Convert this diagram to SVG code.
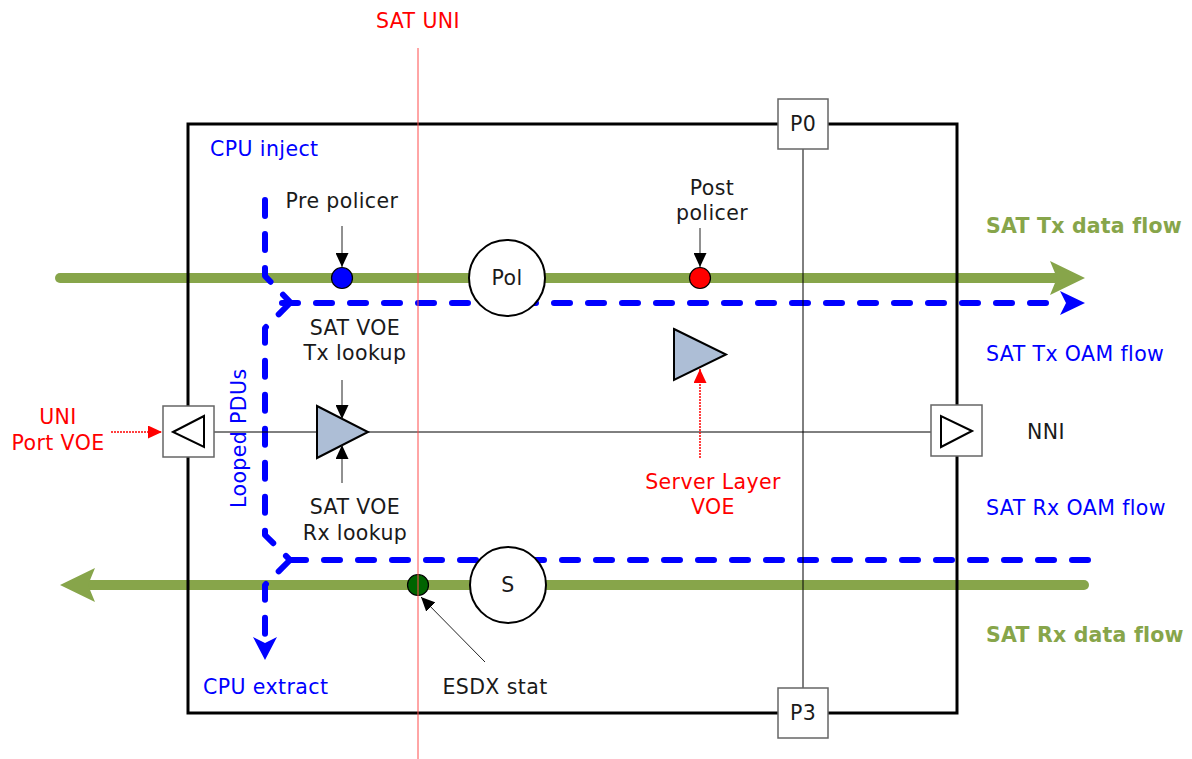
<svg xmlns="http://www.w3.org/2000/svg" width="1192" height="759" viewBox="0 0 1192 759">
<defs>
<style>
text{font-family:"DejaVu Sans","Verdana",sans-serif;font-size:20.5px;letter-spacing:0.4px}
.blk{fill:#1a1a1a}
.red{fill:#ff0000}
.blu{fill:#0000ff}
.grn{fill:#87a54a;font-weight:bold;letter-spacing:0.2px}
.mid{text-anchor:middle}
.green{stroke:#87a54a;stroke-width:10;fill:none;stroke-linecap:round}
.oam{stroke:#0000ff;stroke-width:6;fill:none;stroke-linecap:round;stroke-linejoin:round;stroke-dasharray:16 18}
.thin{stroke:#000;stroke-width:1;fill:none}
.ptr{stroke:#222;stroke-width:1;fill:none}
.rdot{stroke:#ff0000;stroke-width:1.5;fill:none;stroke-dasharray:2 1}
.port{fill:#fff;stroke:#666;stroke-width:1.5}
.tri{fill:#adbed6;stroke:#000;stroke-width:2}
</style>
<marker id="ab" viewBox="0 0 14 13" refX="14" refY="6.5" markerWidth="14" markerHeight="13" markerUnits="userSpaceOnUse" orient="auto"><path d="M0,0 L14,6.5 L0,13 z" fill="#000"/></marker>
<marker id="ar" viewBox="0 0 14 13" refX="14" refY="6.5" markerWidth="14" markerHeight="13" markerUnits="userSpaceOnUse" orient="auto"><path d="M0,0 L14,6.5 L0,13 z" fill="#ff0000"/></marker>
</defs>

<g id="connectors">
<!-- SAT Tx data flow -->
<line class="green" x1="60" y1="278" x2="1055" y2="278"/>
<polygon points="1085,278 1050,261 1057,278 1050,295" fill="#87a54a"/>
<!-- SAT Rx data flow -->
<line class="green" x1="88" y1="585" x2="1084" y2="585"/>
<polygon points="60,585 95,568 88,585 95,602" fill="#87a54a"/>
<!-- CPU inject branch -->
<path class="oam" d="M265,200 V276 L290,302"/>
<!-- SAT Tx OAM flow -->
<path class="oam" d="M265,303 H1060" stroke-dashoffset="17"/>
<polygon points="1085,303 1060,291 1066,303 1060,315" fill="#0000ff"/>
<!-- Looped PDUs -->
<path class="oam" d="M290,303 L265,328 V535 L290,560"/>
<!-- SAT Rx OAM flow -->
<path class="oam" d="M1088,560 H290"/>
<!-- CPU extract -->
<path class="oam" d="M290,560 L265,585 V640"/>
<polygon points="265,660 253,637 265,643 277,637" fill="#0000ff"/>
</g>

<g id="frame">
<rect x="188" y="124" width="769" height="589" fill="none" stroke="#000" stroke-width="3"/>
<line class="thin" x1="803" y1="149" x2="803" y2="688"/>
<line class="thin" x1="214" y1="432" x2="931" y2="432"/>
</g>

<g id="p0"><rect class="port" x="778" y="99" width="50" height="50"/><text class="blk mid" x="803" y="131">P0</text></g>
<g id="p3"><rect class="port" x="778" y="688" width="50" height="50"/><text class="blk mid" x="803" y="720">P3</text></g>

<g id="uni-port">
<rect class="port" x="163" y="406" width="51" height="51"/>
<polygon points="173,432 204,416 204,447" fill="#fff" stroke="#000" stroke-width="2"/>
</g>
<g id="nni-port">
<rect class="port" x="931" y="405" width="51" height="51"/>
<polygon points="972,431 941,416 941,447" fill="#fff" stroke="#000" stroke-width="2"/>
<text class="blk" x="1027" y="439">NNI</text>
</g>

<g id="pol">
<circle cx="507" cy="278" r="38" fill="#fff" stroke="#000" stroke-width="2"/>
<text class="blk mid" x="507" y="285">Pol</text>
</g>
<g id="s">
<circle cx="508" cy="585" r="38" fill="#fff" stroke="#000" stroke-width="2"/>
<text class="blk mid" x="508" y="592">S</text>
</g>

<g id="pre-policer">
<circle cx="342" cy="278" r="10.5" fill="#0000ff" stroke="#000" stroke-width="1.2"/>
<line class="ptr" x1="342" y1="226" x2="342" y2="267" marker-end="url(#ab)"/>
<text class="blk mid" x="342" y="208">Pre policer</text>
</g>
<g id="post-policer">
<circle cx="700" cy="278" r="10.5" fill="#ff0000" stroke="#000" stroke-width="1.2"/>
<line class="ptr" x1="700" y1="228" x2="700" y2="267" marker-end="url(#ab)"/>
<text class="blk mid" x="712" y="195">Post</text>
<text class="blk mid" x="712" y="220">policer</text>
</g>

<g id="sat-voe">
<polygon class="tri" points="317,406 368,432 317,458"/>
<line class="ptr" x1="342" y1="380" x2="342" y2="419" marker-end="url(#ab)"/>
<line class="ptr" x1="342" y1="483" x2="342" y2="445" marker-end="url(#ab)"/>
<text class="blk mid" x="355" y="335">SAT VOE</text>
<text class="blk mid" x="355" y="360">Tx lookup</text>
<text class="blk mid" x="355" y="514">SAT VOE</text>
<text class="blk mid" x="355" y="540">Rx lookup</text>
</g>

<g id="server-voe">
<polygon class="tri" points="674,329 726,354.5 674,380"/>
<line class="rdot" x1="700" y1="458" x2="700" y2="369" marker-end="url(#ar)"/>
<text class="red mid" x="713" y="489">Server Layer</text>
<text class="red mid" x="713" y="514">VOE</text>
</g>

<g id="uni-voe">
<line class="rdot" x1="111" y1="432" x2="162" y2="432" marker-end="url(#ar)"/>
<text class="red mid" x="58" y="424">UNI</text>
<text class="red mid" x="58" y="450">Port VOE</text>
</g>

<g id="esdx">
<circle cx="418" cy="585" r="10.5" fill="#006400" stroke="#000" stroke-width="1.2"/>
<line class="ptr" x1="485" y1="662" x2="421" y2="597" marker-end="url(#ab)"/>
<text class="blk mid" x="495" y="694">ESDX stat</text>
</g>

<g id="sat-uni">
<line x1="418" y1="48" x2="418" y2="759" stroke="#ff4d4d" stroke-width="1"/>
<text class="red mid" x="418" y="28">SAT UNI</text>
</g>

<g id="labels">
<text class="blu" x="210" y="156">CPU inject</text>
<text class="blu" x="203" y="694">CPU extract</text>
<text class="blu" transform="translate(246,508) rotate(-90)">Looped PDUs</text>
<text class="grn" x="986" y="233">SAT Tx data flow</text>
<text class="blu" x="986" y="361">SAT Tx OAM flow</text>
<text class="blu" x="986" y="515">SAT Rx OAM flow</text>
<text class="grn" x="986" y="642">SAT Rx data flow</text>
</g>
</svg>
